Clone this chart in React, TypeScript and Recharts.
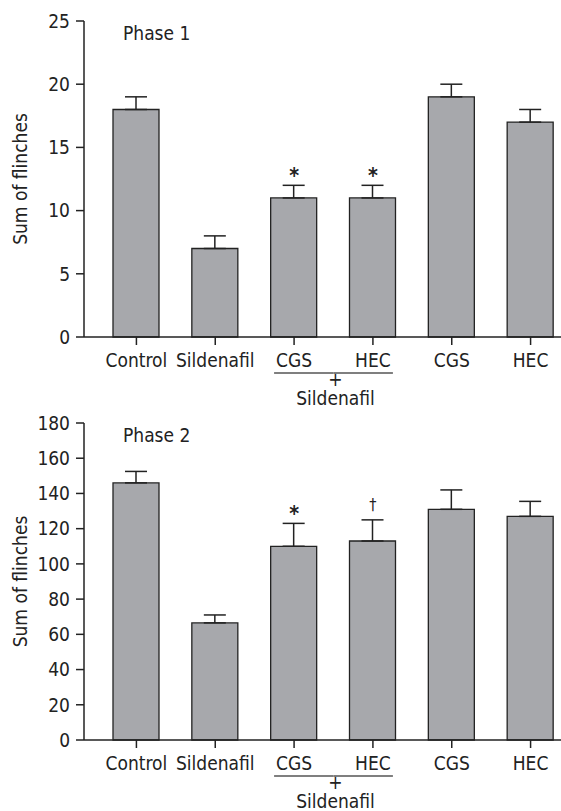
import { BarChart, Bar, XAxis, YAxis, ErrorBar, ReferenceDot } from "recharts";

const categories = ["Control", "Sildenafil", "CGS+Sildenafil", "HEC+Sildenafil", "CGS", "HEC"];
const tickLabels = ["Control", "Sildenafil", "CGS", "HEC", "CGS", "HEC"];

const phase1Values = [18, 7, 11, 11, 19, 17];
const phase1Errors = [1, 1, 1, 1, 1, 1];
const phase1Marks = ["", "", "*", "*", "", ""];
const phase1Ticks = [0, 5, 10, 15, 20, 25];

const phase2Values = [146, 66.5, 110, 113, 131, 127];
const phase2Errors = [6.5, 4.5, 13, 12, 11, 8.5];
const phase2Marks = ["", "", "*", "\u2020", "", ""];
const phase2Ticks = [0, 20, 40, 60, 80, 100, 120, 140, 160, 180];

const FONT = "'DejaVu Sans Condensed', 'Liberation Sans Narrow', sans-serif";
const FS = 19;
const INK = "#222";
const CHART_W = 570;
const Y_W = 84;
const PAD_L = 13;
const HALF_BAND = (CHART_W - Y_W - PAD_L) / categories.length / 2;

const GroupTick = (props: any) => {
  const { x, y, payload } = props;
  const i = payload.index;
  return (
    <g fontFamily={FONT} fontSize={FS} fill={INK}>
      <text x={x} y={y + 22} textAnchor="middle" fill={INK}>
        {tickLabels[i]}
      </text>
      {i === 2 && (
        <>
          <line x1={x - 20} x2={x + HALF_BAND} y1={y + 28} y2={y + 28} stroke="#555" strokeWidth={1.5} />
          <text x={x + HALF_BAND + 2} y={y + 40.5} textAnchor="middle" fill={INK}>+</text>
          <text x={x + HALF_BAND + 2} y={y + 59.5} textAnchor="middle" fill={INK}>Sildenafil</text>
        </>
      )}
      {i === 3 && (
        <line x1={x - HALF_BAND} x2={x + 20} y1={y + 28} y2={y + 28} stroke="#555" strokeWidth={1.5} />
      )}
    </g>
  );
};

type PanelProps = {
  title: string;
  values: number[];
  errors: number[];
  marks: string[];
  ticks: number[];
  top: number;
  height: number;
  marginTop: number;
  axisHeight: number;
};

const Panel = ({ title, values, errors, marks, ticks, top, height, marginTop, axisHeight }: PanelProps) => {
  const data = categories.map((key, i) => ({ key, value: values[i], err: [0, errors[i]] }));
  return (
    <div style={{ position: "absolute", left: 0, top }}>
      <BarChart width={CHART_W} height={height} data={data} margin={{ top: marginTop, right: 0, bottom: 0, left: 0 }}>
        <XAxis
          dataKey="key"
          height={axisHeight}
          padding={{ left: PAD_L, right: 0 }}
          tickSize={8}
          tickMargin={0}
          interval={0}
          axisLine={{ stroke: INK, strokeWidth: 1.5 }}
          tickLine={{ stroke: INK, strokeWidth: 1.5 }}
          tick={<GroupTick />}
        />
        <YAxis
          width={Y_W}
          domain={[0, ticks[ticks.length - 1]]}
          ticks={ticks}
          interval={0}
          tickSize={8}
          tickMargin={6}
          axisLine={{ stroke: INK, strokeWidth: 1.5 }}
          tickLine={{ stroke: INK, strokeWidth: 1.5 }}
          tick={{ fill: INK, fontSize: FS, fontFamily: FONT }}
          label={{
            value: "Sum of flinches",
            angle: -90,
            position: "insideLeft",
            offset: 20,
            style: { textAnchor: "middle", fill: INK, fontSize: FS, fontFamily: FONT },
          }}
        />
        <Bar dataKey="value" fill="#a7a8ac" stroke={INK} strokeWidth={1.3} barSize={46} isAnimationActive={false}>
          <ErrorBar dataKey="err" width={11} stroke={INK} strokeWidth={1.5} direction="y" />
        </Bar>
        {marks.map((m, i) =>
          m ? (
            <ReferenceDot
              key={i}
              x={categories[i]}
              y={values[i] + errors[i]}
              r={0}
              stroke="none"
              label={{
                value: m,
                position: "top",
                offset: m === "*" ? 2 : 10,
                fill: INK,
                fontSize: m === "*" ? 21 : 16,
                fontFamily: FONT,
                fontWeight: m === "*" ? "bold" : "normal",
              }}
            />
          ) : null
        )}
        <text x={123} y={marginTop + 19} fontFamily={FONT} fontSize={FS} fill={INK}>
          {title}
        </text>
      </BarChart>
    </div>
  );
};

export default function App() {
  return (
    <div style={{ position: "absolute", left: 0, top: 0, width: 561, height: 811, overflow: "hidden", background: "#fff" }}>
      <Panel
        title="Phase 1"
        values={phase1Values}
        errors={phase1Errors}
        marks={phase1Marks}
        ticks={phase1Ticks}
        top={0}
        height={410}
        marginTop={21}
        axisHeight={73}
      />
      <Panel
        title="Phase 2"
        values={phase2Values}
        errors={phase2Errors}
        marks={phase2Marks}
        ticks={phase2Ticks}
        top={400}
        height={411}
        marginTop={23}
        axisHeight={71}
      />
    </div>
  );
}
